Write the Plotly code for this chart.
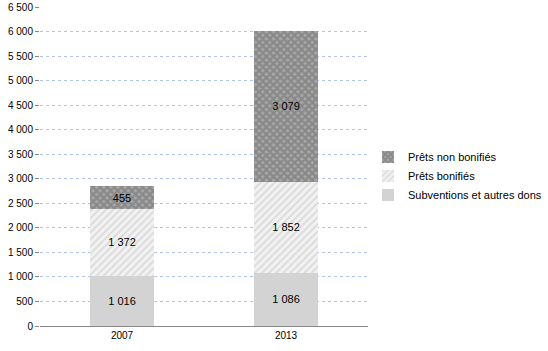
import plotly.graph_objects as go

years = ["2007", "2013"]
subventions = [1016, 1086]
prets_bonifies = [1372, 1852]
prets_non_bonifies = [455, 3079]
series_names = ["Subventions et autres dons", "Prêts bonifiés", "Prêts non bonifiés"]
tick_vals = list(range(0, 6501, 500))
tick_text = [f"{v:,}".replace(",", " ") for v in tick_vals]

def fmt(v):
    return f"{v:,}".replace(",", " ")

fig = go.Figure()
fig.add_trace(go.Bar(
    x=years, y=subventions, name=series_names[0],
    marker=dict(color="#d3d3d3", line=dict(width=0)),
    text=[fmt(v) for v in subventions], textposition="inside", insidetextanchor="middle",
))
fig.add_trace(go.Bar(
    x=years, y=prets_bonifies, name=series_names[1],
    marker=dict(color="#ffffff", line=dict(width=0),
                pattern=dict(shape="/", fgcolor="#c4c4c4", bgcolor="#f2f2f2", size=5, solidity=0.4)),
    text=[fmt(v) for v in prets_bonifies], textposition="inside", insidetextanchor="middle",
))
fig.add_trace(go.Bar(
    x=years, y=prets_non_bonifies, name=series_names[2],
    marker=dict(color="#ffffff", line=dict(width=0),
                pattern=dict(shape="x", fgcolor="#6a6a6a", bgcolor="#a8a8a8", size=5, solidity=0.7)),
    text=[fmt(v) for v in prets_non_bonifies], textposition="inside", insidetextanchor="middle",
))

fig.update_traces(textfont=dict(color="#000000", size=11), constraintext="none")

fig.update_layout(
    width=548, height=351,
    margin=dict(l=40, r=180, t=7, b=25, autoexpand=False),
    barmode="stack", bargap=0.61,
    plot_bgcolor="#ffffff", paper_bgcolor="#ffffff",
    font=dict(family="Liberation Sans, Arial, sans-serif", size=10, color="#000000"),
    showlegend=True,
    legend=dict(x=1.0, y=0.47, xanchor="left", yanchor="middle", traceorder="reversed",
                font=dict(size=11), itemsizing="constant", tracegroupgap=0,
                bgcolor="rgba(0,0,0,0)"),
    uniformtext=dict(minsize=10, mode="show"),
)
fig.update_xaxes(showline=True, linecolor="#888888", linewidth=1, ticks="", showgrid=False,
                 tickfont=dict(size=10))
fig.update_yaxes(range=[0, 6500], tickvals=tick_vals, ticktext=tick_text,
                 showgrid=True, gridcolor="#b0c4e8", griddash="dot", gridwidth=1,
                 showline=False, ticks="outside", ticklen=4, tickcolor="#888888",
                 zeroline=True, zerolinecolor="#888888", zerolinewidth=1,
                 tickfont=dict(size=10))

fig.write_html("out.html")
